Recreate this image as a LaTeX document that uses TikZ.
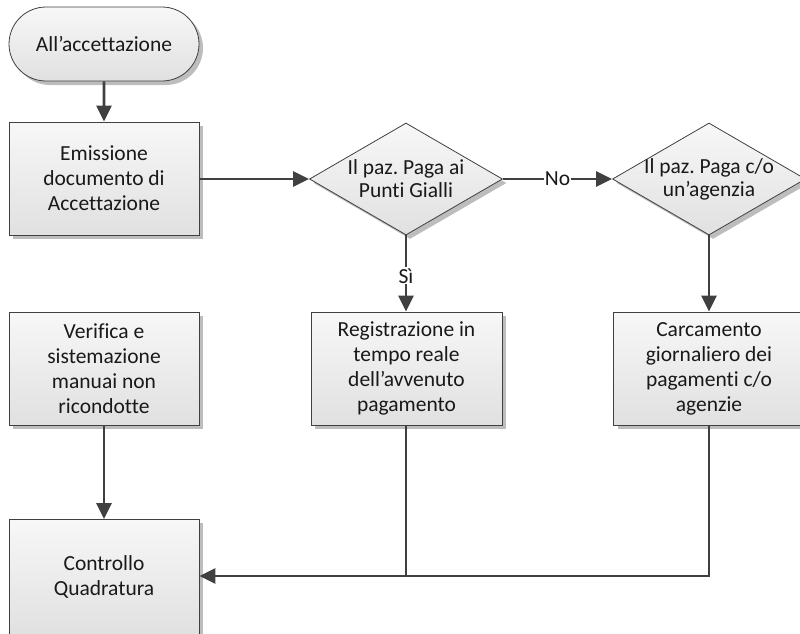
\documentclass[tikz,border=0pt]{standalone}
\usepackage{fontspec}
\setmainfont[Ligatures={NoCommon}]{Carlito}
\frenchspacing
\usetikzlibrary{shapes.geometric,shapes.misc,arrows.meta,shadows}
\definecolor{edge}{HTML}{404040}
\definecolor{shad}{HTML}{BDBDBD}
\tikzset{
 base/.style={draw=edge, line width=0.8pt, top color=white!97!black, bottom color=black!12,
   drop shadow={shadow xshift=4pt, shadow yshift=-4pt, fill=shad, opacity=1},
   font=\fontsize{21.5}{25}\selectfont, align=center, inner sep=0pt, text=black!90},
 proc/.style={base, rectangle, minimum width=190pt, minimum height=113pt},
 term/.style={base, rounded rectangle, minimum width=190pt, minimum height=74pt},
 decision/.style={base, diamond, minimum width=193pt, minimum height=112pt},
 dtext/.style={align=center, font=\fontsize{21.5}{23}\selectfont, text=black!90, inner sep=0pt},
 conn/.style={draw=edge, line width=2.8pt, -{Triangle[length=16pt,width=15pt]}},
 line/.style={draw=edge, line width=2.8pt},
 lbl/.style={fill=white, inner sep=1pt, font=\fontsize{21.5}{24}\selectfont, text=black!90}
}
\begin{document}
\begin{tikzpicture}[x=1pt,y=-1pt]
\useasboundingbox (0,0) rectangle (800,633);
\clip (0,0) rectangle (800,633);
\node[term] (t) at (104,44) {All’accettazione};
\node[proc] (e) at (104,178.5) {Emissione\\documento di\\Accettazione};
\node[decision, label={[dtext]center:Il paz. Paga ai\\Punti Gialli}] (d1) at (406,179) {};
\node[decision, label={[dtext]center:Il paz. Paga c/o\\un’agenzia}] (d2) at (709,179) {};
\node[proc] (v) at (104,368.5) {Verifica e\\sistemazione\\manuai non\\ricondotte};
\node[proc, minimum width=191pt] (r) at (406.5,368.5) {Registrazione in\\tempo reale\\dell’avvenuto\\pagamento};
\node[proc, minimum width=191pt] (c) at (709,368.5) {Carcamento\\giornaliero dei\\pagamenti c/o\\agenzie};
\node[proc, minimum height=116pt, anchor=north] (q) at (104,519) {Controllo\\Quadratura};
\draw[conn] (t) -- (e);
\draw[conn] (e.east |- d1.west) -- (d1.west);
\draw[conn] (d1.east) -- node[lbl]{No} (d2.west);
\draw[conn] (d1.south) -- node[lbl, pos=0.53]{Sì} (d1.south |- r.north);
\draw[conn] (d2.south) -- (d2.south |- c.north);
\draw[conn] (v) -- (q);
\coordinate (j) at (406,576);
\draw[line] (r.south -| j) -- (j);
\draw[conn] (c.south) -- (c.south |- j) -- (q.east |- j);
\end{tikzpicture}
\end{document}
